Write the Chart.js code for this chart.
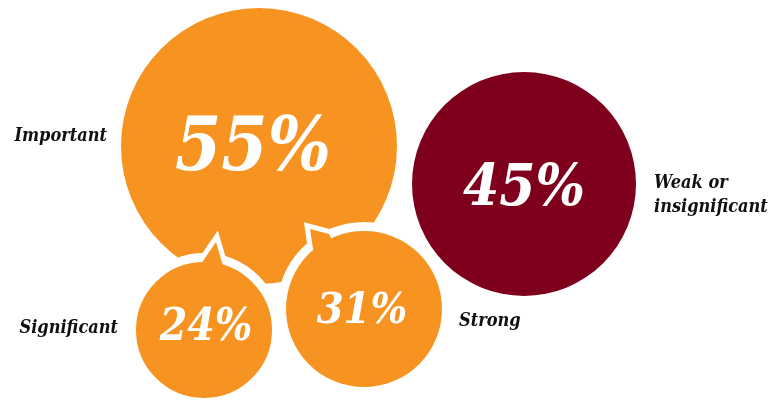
<!DOCTYPE html>
<html>
<head>
<meta charset="utf-8">
<script src="https://cdn.jsdelivr.net/npm/chart.js@4/dist/chart.umd.min.js"></script>
<style>
  html, body { margin: 0; padding: 0; background: #ffffff; }
  #wrap { width: 776px; height: 401px; position: relative; }
</style>
</head>
<body>
<div id="wrap"><canvas id="c"></canvas></div>
<script>
// ---- Data ----
const categories = ['Important', ['Weak or', 'insignificant'], 'Significant', 'Strong'];
const values = [55, 45, 24, 31];
const valueLabels = values.map(v => v + '%');

// ---- Layout (positions in the chart's pixel-like data space) ----
const bubbleX = [259, 524, 204, 364];
const bubbleY = [146, 184, 330, 309];
const bubbleR = [138, 112, 68, 78];
const valueFont = [74, 58, 44, 43];
const valueOffset = [[-6, 24], [0, 21], [2, 10], [-2, 14]];
const labelPos = [
  { x: 107, y: 141, align: 'right' },
  { x: 654, y: 188, align: 'left' },
  { x: 118, y: 333, align: 'right' },
  { x: 459, y: 326, align: 'left' }
];
const pointers = [
  null, null,
  { tip: [12, -88], b1: [-3, -66], b2: [19, -64] },
  { tip: [-54, -80], b1: [-51, -60], b2: [-35, -75] }
];

const ORANGE = '#F79321';
const DARK = '#7E001C';
const RING = 9;
const SERIF = '"DejaVu Serif Condensed", "DejaVu Serif", serif';

function pts(idxs, ring) {
  return idxs.map(i => ({ x: bubbleX[i], y: bubbleY[i], r: bubbleR[i] + (ring ? RING / 2 : 0), i }));
}
const bigIdx = [0, 1], smallIdx = [2, 3];

function pointerPath(ctx, el, p) {
  ctx.beginPath();
  ctx.moveTo(el.x, el.y);
  ctx.lineTo(el.x + p.b1[0], el.y + p.b1[1]);
  ctx.lineTo(el.x + p.tip[0], el.y + p.tip[1]);
  ctx.lineTo(el.x + p.b2[0], el.y + p.b2[1]);
  ctx.closePath();
}

const decor = {
  id: 'decor',
  beforeDatasetDraw(chart, args) {
    const ds = chart.data.datasets[args.index];
    if (ds.id !== 'small') return;
    const ctx = chart.ctx;
    ctx.save();
    args.meta.data.forEach((el, k) => {
      const p = pointers[ds.data[k].i];
      if (!p) return;
      pointerPath(ctx, el, p);
      ctx.lineJoin = 'miter';
      ctx.miterLimit = 6;
      ctx.lineWidth = 10;
      ctx.strokeStyle = '#ffffff';
      ctx.fillStyle = '#ffffff';
      ctx.stroke();
      ctx.fill();
    });
    ctx.restore();
  },
  afterDatasetDraw(chart, args) {
    const ds = chart.data.datasets[args.index];
    if (ds.id !== 'small') return;
    const ctx = chart.ctx;
    ctx.save();
    args.meta.data.forEach((el, k) => {
      const p = pointers[ds.data[k].i];
      if (!p) return;
      pointerPath(ctx, el, p);
      ctx.fillStyle = ORANGE;
      ctx.fill();
    });
    ctx.restore();
  },
  afterDatasetsDraw(chart) {
    const ctx = chart.ctx;
    ctx.save();
    chart.data.datasets.forEach((ds, d) => {
      const meta = chart.getDatasetMeta(d);
      meta.data.forEach((el, k) => {
        const i = ds.data[k].i;
        ctx.fillStyle = '#ffffff';
        ctx.textAlign = 'center';
        ctx.textBaseline = 'alphabetic';
        ctx.font = 'italic bold ' + valueFont[i] + 'px ' + SERIF;
        ctx.fillText(valueLabels[i], el.x + valueOffset[i][0], el.y + valueOffset[i][1]);
      });
    });
    ctx.fillStyle = '#111111';
    ctx.font = 'italic bold 18px ' + SERIF;
    ctx.textBaseline = 'alphabetic';
    const xs = chart.scales.x, ys = chart.scales.y;
    categories.forEach((c, i) => {
      const lp = labelPos[i];
      const lines = Array.isArray(c) ? c : [c];
      ctx.textAlign = lp.align;
      lines.forEach((ln, j) => {
        ctx.fillText(ln, xs.getPixelForValue(lp.x), ys.getPixelForValue(lp.y) + j * 24);
      });
    });
    ctx.restore();
  }
};

new Chart(document.getElementById('c'), {
  type: 'bubble',
  data: {
    datasets: [
      {
        id: 'big',
        order: 2,
        data: pts(bigIdx, false),
        backgroundColor: bigIdx.map(i => i === 0 ? ORANGE : DARK),
        borderWidth: 0,
        hoverBorderWidth: 0,
        clip: false
      },
      {
        id: 'small',
        order: 1,
        data: pts(smallIdx, true),
        backgroundColor: ORANGE,
        borderColor: '#ffffff',
        borderWidth: RING,
        hoverBorderWidth: RING,
        clip: false
      }
    ]
  },
  options: {
    responsive: true,
    maintainAspectRatio: false,
    animation: false,
    events: [],
    layout: { padding: 0, autoPadding: false },
    plugins: { legend: { display: false }, tooltip: { enabled: false } },
    scales: {
      x: { type: 'linear', min: 0, max: 776, display: false },
      y: { type: 'linear', min: 0, max: 401, reverse: true, display: false }
    }
  },
  plugins: [decor]
});
</script>
</body>
</html>
